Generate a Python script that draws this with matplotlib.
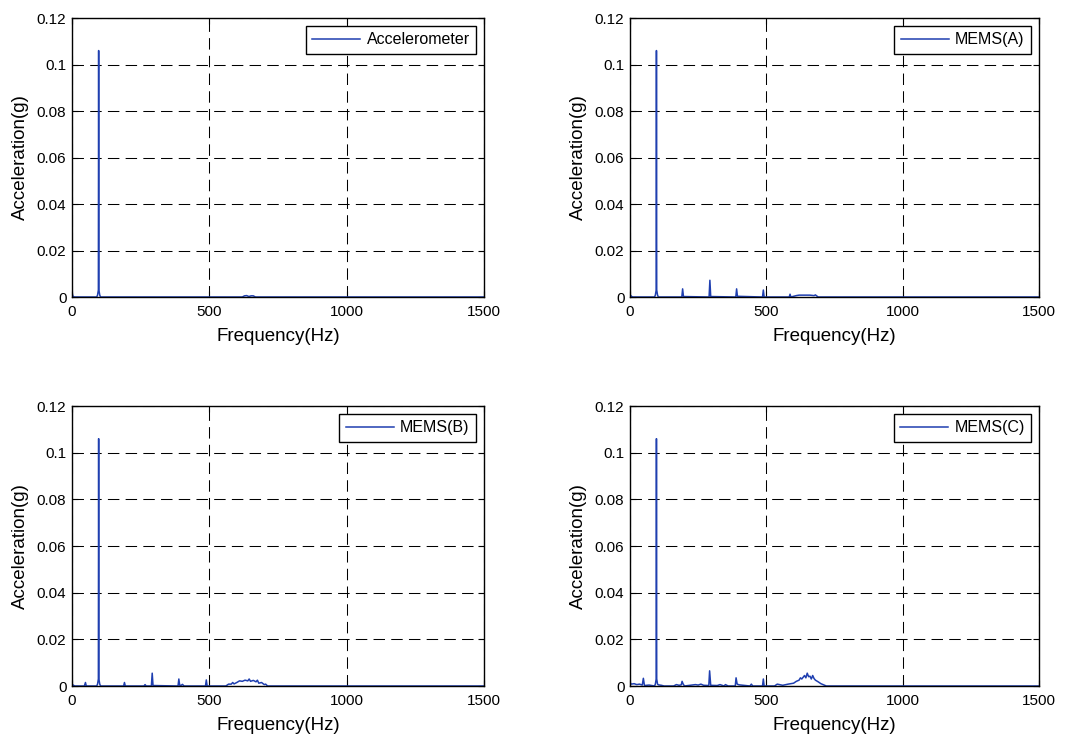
import numpy as np
import matplotlib.pyplot as plt
from matplotlib.ticker import FormatStrFormatter

plt.rcParams['font.family'] = ['Liberation Sans', 'DejaVu Sans']

# spectrum data (frequency in Hz, acceleration in g)
acc_freq = [0, 3, 8, 90, 93, 96, 97, 98, 101, 104, 620, 628, 636, 644, 652, 660, 668, 1500]
acc_amp = [0.0022, 0.0004, 0, 0, 0.0008, 0.003, 0.106, 0.003, 0.0008, 0, 0, 0.0005, 0.0006, 0.0002, 0.0005, 0.0005, 0, 0]

mems_a_freq = [0, 5, 10, 90, 93, 96, 97, 98, 101, 104, 190, 193, 196, 290, 293, 296, 388, 391, 394,
               486, 489, 492, 584, 587, 590, 610, 620, 640, 660, 675, 680, 690, 1500]
mems_a_amp = [0.001, 0.0003, 0, 0, 0.0008, 0.003, 0.106, 0.003, 0.0008, 0, 0, 0.0035, 0.0002, 0, 0.0072, 0.0002, 0, 0.0035, 0.0003,
              0, 0.003, 0, 0, 0.0012, 0, 0.0006, 0.0008, 0.0008, 0.0008, 0.0006, 0.0009, 0, 0]

mems_b_freq = [0, 4, 10, 45, 49, 52, 90, 93, 96, 97, 98, 101, 104, 188, 191, 194, 262, 266, 270,
               289, 292, 295, 386, 389, 392, 398, 402, 408, 486, 489, 492, 560, 570, 580, 585,
               590, 600, 610, 620, 630, 640, 645, 650, 660, 670, 675, 680, 690, 700, 705, 712, 1500]
mems_b_amp = [0.0008, 0.0004, 0, 0, 0.0015, 0, 0, 0.0008, 0.003, 0.106, 0.003, 0.0008, 0, 0, 0.0015, 0, 0, 0.0006, 0,
              0, 0.0055, 0.0002, 0, 0.003, 0.0003, 0.0003, 0.0007, 0, 0, 0.0026, 0, 0, 0.0008, 0.0008, 0.0015,
              0.0009, 0.0015, 0.0022, 0.0020, 0.0025, 0.0022, 0.003, 0.0020, 0.0024, 0.0018, 0.0025, 0.0012, 0.0015, 0.0006, 0.0008, 0, 0]

mems_c_freq = [0, 5, 15, 25, 35, 45, 49, 53, 70, 90, 93, 96, 97, 98, 101, 104, 115, 125,
               160, 170, 180, 188, 191, 195, 200, 240, 250, 260, 270, 289, 292, 296,
               320, 330, 345, 350, 360, 386, 389, 393, 400, 440, 445, 450, 486, 489, 492,
               530, 540, 560, 580, 600, 610, 620, 625, 630, 640, 645, 650, 655, 660, 665,
               670, 675, 680, 690, 700, 710, 720, 1500]
mems_c_amp = [0.0015, 0.0008, 0.0010, 0.0006, 0.0008, 0.0004, 0.0033, 0.0002, 0.0004, 0, 0.0008, 0.003, 0.106, 0.003, 0.0008, 0.0005, 0.0003, 0,
              0, 0.0006, 0.0003, 0.0005, 0.0020, 0.0008, 0, 0.0006, 0.0004, 0.0008, 0.0003, 0.0002, 0.0065, 0.0003,
              0.0002, 0.0006, 0, 0.0006, 0, 0, 0.0035, 0.0008, 0.0005, 0, 0.0008, 0, 0, 0.003, 0,
              0, 0.0008, 0.0003, 0.0008, 0.0012, 0.0020, 0.0025, 0.0035, 0.0030, 0.0045, 0.0035, 0.0055, 0.0040, 0.0042, 0.0030,
              0.0045, 0.0032, 0.0025, 0.0018, 0.0010, 0.0005, 0, 0]

series = [
    ("Accelerometer", acc_freq, acc_amp),
    ("MEMS(A)", mems_a_freq, mems_a_amp),
    ("MEMS(B)", mems_b_freq, mems_b_amp),
    ("MEMS(C)", mems_c_freq, mems_c_amp),
]

# axes boxes in figure fractions [left, bottom, width, height]
boxes = [
    [72 / 1085, 440 / 737, 412 / 1085, 279 / 737],
    [630 / 1085, 440 / 737, 409 / 1085, 279 / 737],
    [72 / 1085, 51 / 737, 412 / 1085, 280 / 737],
    [630 / 1085, 51 / 737, 409 / 1085, 280 / 737],
]

fig = plt.figure(figsize=(10.85, 7.37), dpi=100)

for (name, freq, amp), box in zip(series, boxes):
    ax = fig.add_axes(box)
    ax.plot(freq, amp, color='#1f3fb0', lw=1.1, label=name)
    ax.set_xlim(0, 1500)
    ax.set_ylim(0, 0.12)
    ax.set_xticks([0, 500, 1000, 1500])
    ax.set_yticks(np.arange(0, 0.121, 0.02))
    ax.yaxis.set_major_formatter(FormatStrFormatter('%g'))
    ax.tick_params(direction='in', length=4, top=True, right=True, labelsize=11)
    ax.tick_params(axis='x', pad=6)
    ax.tick_params(axis='y', pad=4)
    ax.grid(True, color='black', linestyle=(0, (11, 6)), lw=0.75)
    for s in ax.spines.values():
        s.set_linewidth(1.0)
    ax.set_xlabel("Frequency(Hz)", fontsize=13.5, labelpad=6)
    ax.set_ylabel("Acceleration(g)", fontsize=13.5, labelpad=6)
    leg = ax.legend(loc='upper right', fontsize=11.5, fancybox=False, framealpha=1,
                    edgecolor='black', borderaxespad=0.5, handlelength=3.0,
                    handletextpad=0.4)
    leg.get_frame().set_linewidth(1.0)

fig.savefig("out.png", dpi=100)
